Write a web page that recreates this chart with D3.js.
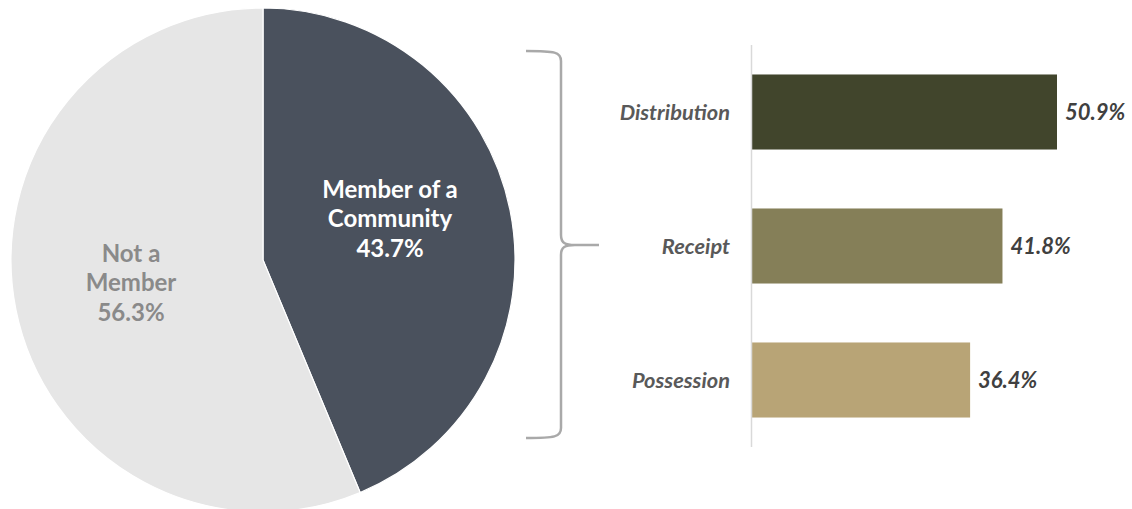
<!DOCTYPE html>
<meta charset="utf-8">
<script src="https://d3js.org/d3.v7.min.js"></script>
<style>
  body { margin: 0; background: #fff; }
  text { font-family: Lato, "Open Sans", sans-serif; }
</style>
<div id="my_dataviz"></div>
<script>
// pie data
var pieLabels = [["Member of a", "Community"], ["Not a", "Member"]];
var pieValues = [43.7, 56.3];
var pieColors = ["#4a515d", "#e6e6e6"];
var pieTextColors = ["#ffffff", "#8a8a8a"];

// bar data
var barCategories = ["Distribution", "Receipt", "Possession"];
var barValues = [50.9, 41.8, 36.4];
var barColors = ["#41452c", "#857f58", "#b8a476"];

var width = 1132, height = 509;

var svg = d3.select("#my_dataviz")
  .append("svg")
  .attr("width", width)
  .attr("height", height);

// ---- pie ----
var cx = 263, cy = 260, radius = 252;
var pieData = pieValues.map(function (v, i) {
  return { value: v, label: pieLabels[i], color: pieColors[i], tc: pieTextColors[i] };
});
var pie = d3.pie().sort(null).value(function (d) { return d.value; });
var arc = d3.arc().innerRadius(0).outerRadius(radius);

var pg = svg.append("g").attr("transform", "translate(" + cx + "," + cy + ")");
pg.selectAll("path")
  .data(pie(pieData))
  .enter()
  .append("path")
  .attr("d", arc)
  .attr("fill", function (d) { return d.data.color; })
  .attr("stroke", "#fff")
  .attr("stroke-width", 1.2);

var labelPos = [[127, -42], [-132, 22]];  // label centres, relative to pie centre
pg.selectAll("text.plabel")
  .data(pie(pieData))
  .enter()
  .append("text")
  .attr("class", "plabel")
  .attr("text-anchor", "middle")
  .attr("font-size", 24)
  .attr("font-weight", "bold")
  .attr("fill", function (d) { return d.data.tc; })
  .each(function (d, i) {
    var t = d3.select(this);
    var lines = d.data.label.concat([d3.format(".1f")(d.data.value) + "%"]);
    lines.forEach(function (l, j) {
      t.append("tspan")
        .attr("x", labelPos[i][0])
        .attr("y", labelPos[i][1] + (j - 1) * 29.5 + 9)
        .text(l);
    });
  });

// ---- brace ----
var bx = 526, bTop = 51, bBot = 438, bMid = 245, bv = 561, bTip = 599;
svg.append("path")
  .attr("d",
    "M" + bx + "," + bTop +
    " C" + (bv - 6) + "," + bTop + " " + bv + "," + (bTop + 1) + " " + bv + "," + (bTop + 10) +
    " L" + bv + "," + (bMid - 10) +
    " C" + bv + "," + (bMid - 2) + " " + (bv + 4) + "," + bMid + " " + (bv + 14) + "," + bMid +
    " L" + bTip + "," + bMid +
    " M" + (bv + 14) + "," + bMid +
    " C" + (bv + 4) + "," + bMid + " " + bv + "," + (bMid + 2) + " " + bv + "," + (bMid + 10) +
    " L" + bv + "," + (bBot - 10) +
    " C" + bv + "," + (bBot - 1) + " " + (bv - 6) + "," + bBot + " " + bx + "," + bBot)
  .attr("fill", "none")
  .attr("stroke", "#a9a9a9")
  .attr("stroke-width", 2.5);

// ---- bars ----
var x0 = 752;
var x = d3.scaleLinear().domain([0, 50.9]).range([x0, 1057]);
var y = d3.scaleBand()
  .domain(barCategories)
  .range([45, 447])
  .paddingInner(0.44)
  .paddingOuter(0.22);

var bg = svg.append("g");
bg.selectAll("rect")
  .data(barCategories)
  .enter()
  .append("rect")
  .attr("x", x(0))
  .attr("y", function (d) { return y(d); })
  .attr("width", function (d, i) { return x(barValues[i]) - x(0); })
  .attr("height", y.bandwidth())
  .attr("fill", function (d, i) { return barColors[i]; });

// axis line
svg.append("line")
  .attr("x1", x0 - 0.5).attr("x2", x0 - 0.5)
  .attr("y1", 45).attr("y2", 447)
  .attr("stroke", "#d9d9d9")
  .attr("stroke-width", 1.5);

// category labels
bg.selectAll("text.cat")
  .data(barCategories)
  .enter()
  .append("text")
  .attr("class", "cat")
  .attr("x", 730)
  .attr("y", function (d) { return y(d) + y.bandwidth() / 2; })
  .attr("dy", "0.35em")
  .attr("text-anchor", "end")
  .attr("font-size", 21.8)
  .attr("font-weight", "bold")
  .attr("font-style", "italic")
  .attr("fill", "#595959")
  .text(function (d) { return d; });

// value labels
bg.selectAll("text.val")
  .data(barCategories)
  .enter()
  .append("text")
  .attr("class", "val")
  .attr("x", function (d, i) { return x(barValues[i]) + 8; })
  .attr("y", function (d) { return y(d) + y.bandwidth() / 2; })
  .attr("dy", "0.35em")
  .attr("font-size", 22)
  .attr("font-weight", "bold")
  .attr("font-style", "italic")
  .attr("fill", "#404040")
  .text(function (d, i) { return d3.format(".1f")(barValues[i]) + "%"; });
</script>
